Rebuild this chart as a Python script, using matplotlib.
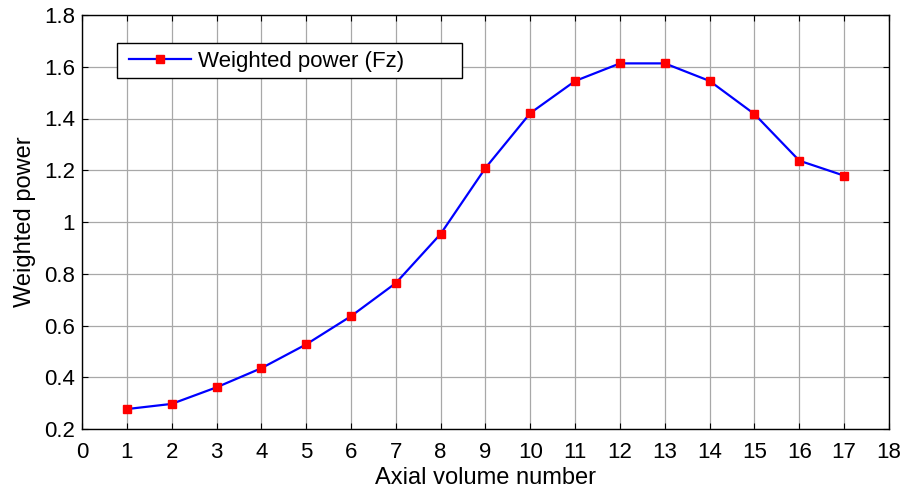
import matplotlib
matplotlib.use("Agg")
import matplotlib.pyplot as plt
from matplotlib.patches import Rectangle

plt.rcParams['font.family'] = ['Liberation Sans', 'DejaVu Sans']

volume = [1, 2, 3, 4, 5, 6, 7, 8, 9, 10, 11, 12, 13, 14, 15, 16, 17]
power = [0.277, 0.297, 0.361, 0.435, 0.527, 0.636, 0.764, 0.954, 1.209, 1.421,
         1.545, 1.613, 1.613, 1.545, 1.417, 1.237, 1.179]
xticks = list(range(0, 19))
yticks = [0.2, 0.4, 0.6, 0.8, 1.0, 1.2, 1.4, 1.6, 1.8]
ytick_labels = ['0.2', '0.4', '0.6', '0.8', '1', '1.2', '1.4', '1.6', '1.8']

fig = plt.figure(figsize=(9.06, 4.88), dpi=100)
ax = fig.add_axes([82/906, 1-429/488, (889-82)/906, (429-15)/488])

ax.plot(volume, power, color='#0000ff', lw=1.6, marker='s', ms=6,
        mfc='#ff0000', mec='#ff0000', label='Weighted power (Fz)', zorder=3)

ax.set_xlim(0, 18)
ax.set_ylim(0.2, 1.8)
ax.set_xticks(xticks)
ax.set_yticks(yticks)
ax.set_yticklabels(ytick_labels)
ax.grid(True, color='#a8a8a8', lw=0.9)
ax.tick_params(direction='in', length=4, labelsize=16, width=0.8, top=True, right=True)
ax.tick_params(axis='x', pad=9)
ax.tick_params(axis='y', pad=5)
for s in ax.spines.values():
    s.set_linewidth(1.0)
ax.set_xlabel('Axial volume number', fontsize=17, labelpad=3)
ax.set_ylabel('Weighted power', fontsize=17, labelpad=6)

# legend frame (MATLAB-style wide box)
frame = Rectangle(((117-82)/807, 1-(78-15)/414), 345/807, 35/414,
                  transform=ax.transAxes, facecolor='white', edgecolor='black',
                  lw=1.0, zorder=4, clip_on=False)
ax.add_patch(frame)
leg = ax.legend(loc='center left', bbox_to_anchor=((129-82)/807, 1-(61-15)/414),
                fontsize=16, frameon=False, borderpad=0, borderaxespad=0,
                handlelength=2.8, handletextpad=0.3)
leg.set_zorder(5)

fig.savefig('out.png', dpi=100)
